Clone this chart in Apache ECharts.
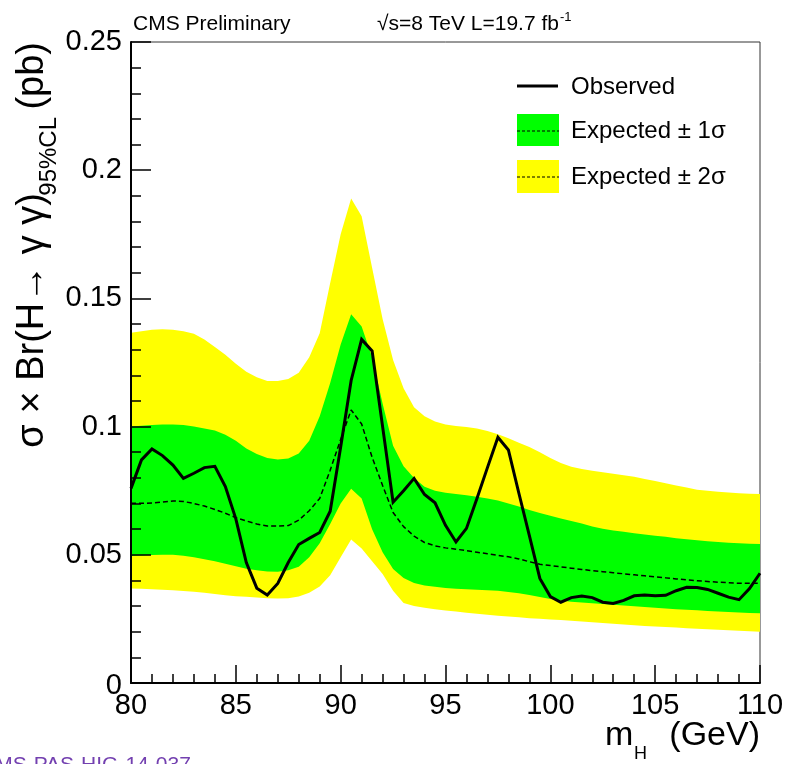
<!DOCTYPE html>
<html>
<head>
<meta charset="utf-8">
<script src="https://cdn.jsdelivr.net/npm/echarts@6/dist/echarts.min.js"></script>
<style>
  html, body { margin: 0; padding: 0; background: #fff; }
  #container { width: 788px; height: 764px; }
</style>
</head>
<body>
<div id="container"></div>
<script>
const FONT = 'Liberation Sans';

// Higgs mass points (GeV)
const mass = [
  80, 80.5, 81, 81.5, 82, 82.5, 83, 83.5, 84, 84.5,
  85, 85.5, 86, 86.5, 87, 87.5, 88, 88.5, 89, 89.5,
  90, 90.5, 91, 91.5, 92, 92.5, 93, 93.5, 94, 94.5,
  95, 95.5, 96, 96.5, 97, 97.5, 98, 98.5, 99, 99.5,
  100, 100.5, 101, 101.5, 102, 102.5, 103, 103.5, 104, 104.5,
  105, 105.5, 106, 106.5, 107, 107.5, 108, 108.5, 109, 109.5,
  110
];

const observed = [
  0.0759, 0.0870, 0.0913, 0.0887, 0.0850, 0.0798, 0.0818, 0.0840, 0.0845, 0.0766,
  0.0640, 0.0470, 0.0370, 0.0343, 0.0388, 0.0470, 0.0540, 0.0564, 0.0587, 0.0670,
  0.0920, 0.1180, 0.1340, 0.1295, 0.1000, 0.0705, 0.0750, 0.0798, 0.0735, 0.0703,
  0.0615, 0.0550, 0.0603, 0.0720, 0.0840, 0.0958, 0.0909, 0.0740, 0.0575, 0.0408,
  0.0337, 0.0315, 0.0333, 0.0339, 0.0333, 0.0315, 0.0310, 0.0322, 0.0340, 0.0343,
  0.0340, 0.0342, 0.0360, 0.0373, 0.0372, 0.0365, 0.0350, 0.0335, 0.0325, 0.0368,
  0.0428
];

const expected = [
  0.0701, 0.0701, 0.0702, 0.0706, 0.0710, 0.0708, 0.0700, 0.0690, 0.0677, 0.0662,
  0.0645, 0.0632, 0.0620, 0.0612, 0.0612, 0.0614, 0.0635, 0.0672, 0.0720, 0.0830,
  0.0950, 0.1065, 0.1010, 0.0880, 0.0770, 0.0665, 0.0610, 0.0573, 0.0548, 0.0535,
  0.0527, 0.0522, 0.0516, 0.0510, 0.0504, 0.0498, 0.0492, 0.0484, 0.0473, 0.0463,
  0.0458, 0.0453, 0.0448, 0.0443, 0.0438, 0.0434, 0.0430, 0.0426, 0.0422, 0.0418,
  0.0414, 0.0410, 0.0406, 0.0402, 0.0399, 0.0396, 0.0393, 0.0391, 0.0389, 0.0389,
  0.0389
];

// +-1 sigma band (green)
const sigma1High = [
  0.1000, 0.1003, 0.1006, 0.1008, 0.1008, 0.1006, 0.1000, 0.0993, 0.0985, 0.0968,
  0.0945, 0.0915, 0.0893, 0.0878, 0.0872, 0.0876, 0.0895, 0.0945, 0.1040, 0.1170,
  0.1320, 0.1438, 0.1390, 0.1270, 0.1090, 0.0925, 0.0845, 0.0800, 0.0765, 0.0750,
  0.0742, 0.0737, 0.0732, 0.0726, 0.0720, 0.0712, 0.0700, 0.0688, 0.0675, 0.0663,
  0.0652, 0.0642, 0.0632, 0.0622, 0.0610, 0.0602, 0.0595, 0.0590, 0.0584, 0.0579,
  0.0574, 0.0570, 0.0565, 0.0561, 0.0557, 0.0553, 0.0550, 0.0547, 0.0545, 0.0543,
  0.0542
];
const sigma1Low = [
  0.0495, 0.0497, 0.0499, 0.0500, 0.0500, 0.0496, 0.0490, 0.0483, 0.0475, 0.0465,
  0.0455, 0.0446, 0.0440, 0.0435, 0.0434, 0.0440, 0.0453, 0.0490, 0.0545, 0.0620,
  0.0700, 0.0758, 0.0720, 0.0600, 0.0510, 0.0445, 0.0410, 0.0390, 0.0380, 0.0375,
  0.0371, 0.0368, 0.0366, 0.0364, 0.0362, 0.0360, 0.0355, 0.0350, 0.0343, 0.0335,
  0.0328, 0.0322, 0.0317, 0.0314, 0.0311, 0.0308, 0.0305, 0.0302, 0.0299, 0.0296,
  0.0293, 0.0291, 0.0288, 0.0286, 0.0284, 0.0281, 0.0279, 0.0277, 0.0275, 0.0273,
  0.0272
];

// +-2 sigma band (yellow)
const sigma2High = [
  0.1366, 0.1372, 0.1378, 0.1380, 0.1378, 0.1372, 0.1362, 0.1340, 0.1310, 0.1280,
  0.1245, 0.1214, 0.1192, 0.1178, 0.1178, 0.1186, 0.1210, 0.1270, 0.1364, 0.1560,
  0.1750, 0.1890, 0.1820, 0.1620, 0.1420, 0.1260, 0.1150, 0.1075, 0.1040, 0.1020,
  0.1008, 0.1002, 0.0998, 0.0993, 0.0983, 0.0970, 0.0955, 0.0937, 0.0920, 0.0900,
  0.0878, 0.0858, 0.0843, 0.0835, 0.0828, 0.0822, 0.0816, 0.0810, 0.0804, 0.0796,
  0.0788, 0.0779, 0.0770, 0.0762, 0.0754, 0.0750, 0.0746, 0.0743, 0.0740, 0.0738,
  0.0737
];
const sigma2Low = [
  0.0369, 0.0368, 0.0366, 0.0364, 0.0362, 0.0359, 0.0356, 0.0352, 0.0347, 0.0342,
  0.0338, 0.0336, 0.0333, 0.0331, 0.0330, 0.0331, 0.0337, 0.0352, 0.0376, 0.0420,
  0.0490, 0.0560, 0.0525, 0.0475, 0.0425, 0.0360, 0.0312, 0.0300, 0.0293, 0.0288,
  0.0283, 0.0279, 0.0274, 0.0270, 0.0266, 0.0262, 0.0259, 0.0256, 0.0253, 0.0251,
  0.0248, 0.0246, 0.0243, 0.0240, 0.0237, 0.0234, 0.0231, 0.0228, 0.0225, 0.0222,
  0.0220, 0.0218, 0.0216, 0.0214, 0.0212, 0.0210, 0.0208, 0.0206, 0.0204, 0.0202,
  0.0200
];

const legendNames = ['Observed', 'Expected \u00b1 1\u03c3', 'Expected \u00b1 2\u03c3'];

const container = document.getElementById('container');
const chart = echarts.init(container);

const pairs = arr => mass.map((m, i) => [m, arr[i]]);

// closed band polygon: upper edge left to right, lower edge back
function band(name, hi, lo, color) {
  return {
    name: name,
    type: 'custom',
    silent: true,
    data: [[mass[0], lo[0]]],
    renderItem: function (params, api) {
      const pts = [];
      for (let i = 0; i < mass.length; i++) pts.push(api.coord([mass[i], hi[i]]));
      for (let i = mass.length - 1; i >= 0; i--) pts.push(api.coord([mass[i], lo[i]]));
      return { type: 'polygon', shape: { points: pts }, style: { fill: color } };
    }
  };
}

const tick = { color: '#000', width: 1.5 };

const axisLabel = {
  color: '#000',
  fontSize: 29,
  fontFamily: FONT
};

const option = {
  animation: false,
  backgroundColor: '#fff',
  grid: {
    left: 131,
    right: 28,
    top: 42,
    bottom: 81,
    show: true,
    borderColor: '#333',
    borderWidth: 1
  },
  xAxis: {
    type: 'value',
    min: 80,
    max: 110,
    interval: 5,
    z: 10,
    axisLine: { onZero: false, lineStyle: { color: '#000', width: 2 } },
    axisTick: { inside: true, length: 18, lineStyle: tick },
    minorTick: { show: true, splitNumber: 5, length: 9, lineStyle: tick },
    splitLine: { show: false },
    axisLabel: { ...axisLabel, margin: 8 }
  },
  yAxis: {
    type: 'value',
    min: 0,
    max: 0.25,
    interval: 0.05,
    z: 10,
    axisLine: { show: true, lineStyle: { color: '#000', width: 2 } },
    axisTick: { show: true, inside: true, length: 20, lineStyle: tick },
    minorTick: { show: true, splitNumber: 5, length: 10, lineStyle: tick },
    splitLine: { show: false },
    axisLabel: {
      ...axisLabel,
      margin: 9,
      formatter: v => (v === 0 ? '{z|0}' : String(v)),
      rich: { z: { fontSize: 29, fontFamily: FONT, color: '#000', padding: [6, 0, 0, 0] } }
    }
  },
  series: [
    band(legendNames[2], sigma2High, sigma2Low, '#ffff00'),
    band(legendNames[1], sigma1High, sigma1Low, '#00ff00'),
    {
      name: 'Expected',
      type: 'line',
      symbol: 'none',
      data: pairs(expected),
      lineStyle: { color: '#000', width: 1.5, type: [5, 3] }
    },
    {
      name: legendNames[0],
      type: 'line',
      symbol: 'none',
      data: pairs(observed),
      lineStyle: { color: '#000', width: 3, join: 'miter' }
    }
  ],
  graphic: [
    // header
    {
      type: 'text', left: 133, top: 14,
      style: { text: 'CMS Preliminary', font: '21px ' + FONT, fill: '#000' }
    },
    {
      type: 'text', x: 377, y: 24,
      style: {
        text: '{a|\u221as=8 TeV L=19.7 fb}{b|-1}',
        verticalAlign: 'middle',
        rich: {
          a: { fontSize: 21, fontFamily: FONT, fill: '#000' },
          b: { fontSize: 13, fontFamily: FONT, fill: '#000', padding: [0, 0, 14, 1] }
        }
      }
    },
    // legend
    {
      type: 'line', shape: { x1: 517, y1: 86, x2: 558, y2: 86 },
      style: { stroke: '#000', lineWidth: 3 }
    },
    {
      type: 'rect', shape: { x: 517, y: 114, width: 42, height: 32 },
      style: { fill: '#00ff00' }
    },
    {
      type: 'line', shape: { x1: 517, y1: 131, x2: 559, y2: 131 },
      style: { stroke: '#000', lineWidth: 1.2, lineDash: [3, 2] }
    },
    {
      type: 'rect', shape: { x: 517, y: 160, width: 42, height: 33 },
      style: { fill: '#ffff00' }
    },
    {
      type: 'line', shape: { x1: 517, y1: 177, x2: 559, y2: 177 },
      style: { stroke: '#000', lineWidth: 1.2, lineDash: [3, 2] }
    },
    {
      type: 'text', x: 571, y: 87,
      style: { text: legendNames[0], font: '24px ' + FONT, fill: '#000', verticalAlign: 'middle' }
    },
    {
      type: 'text', x: 571, y: 131,
      style: { text: legendNames[1], font: '24px ' + FONT, fill: '#000', verticalAlign: 'middle' }
    },
    {
      type: 'text', x: 571, y: 177,
      style: { text: legendNames[2], font: '24px ' + FONT, fill: '#000', verticalAlign: 'middle' }
    },
    // y axis title, rotated
    {
      type: 'text', x: 33, y: 193, rotation: Math.PI / 2,
      style: {
        text: '\u03c3 \u00d7 Br(H\u2192 \u03b3 \u03b3)', font: '38px ' + FONT, fill: '#000',
        align: 'right', verticalAlign: 'middle'
      }
    },
    {
      type: 'text', x: 49, y: 117, rotation: Math.PI / 2,
      style: {
        text: '95%CL', font: '24px ' + FONT, fill: '#000',
        align: 'right', verticalAlign: 'middle'
      }
    },
    {
      type: 'text', x: 33, y: 42, rotation: Math.PI / 2,
      style: {
        text: '(pb)', font: '38px ' + FONT, fill: '#000',
        align: 'right', verticalAlign: 'middle'
      }
    },
    // x axis title
    {
      type: 'text', x: 605, y: 736,
      style: { text: 'm', font: '34px ' + FONT, fill: '#000', verticalAlign: 'middle' }
    },
    {
      type: 'text', x: 634, y: 754,
      style: { text: 'H', font: '18px ' + FONT, fill: '#000', verticalAlign: 'middle' }
    },
    {
      type: 'text', x: 760, y: 736,
      style: { text: '(GeV)', font: '34px ' + FONT, fill: '#000', align: 'right', verticalAlign: 'middle' }
    },
    // document reference, cut at the bottom edge
    {
      type: 'text', x: -20, y: 755,
      style: { text: 'CMS-PAS-HIG-14-037', font: '21px ' + FONT, fill: '#7340b0' }
    }
  ]
};

chart.setOption(option);
</script>
</body>
</html>
